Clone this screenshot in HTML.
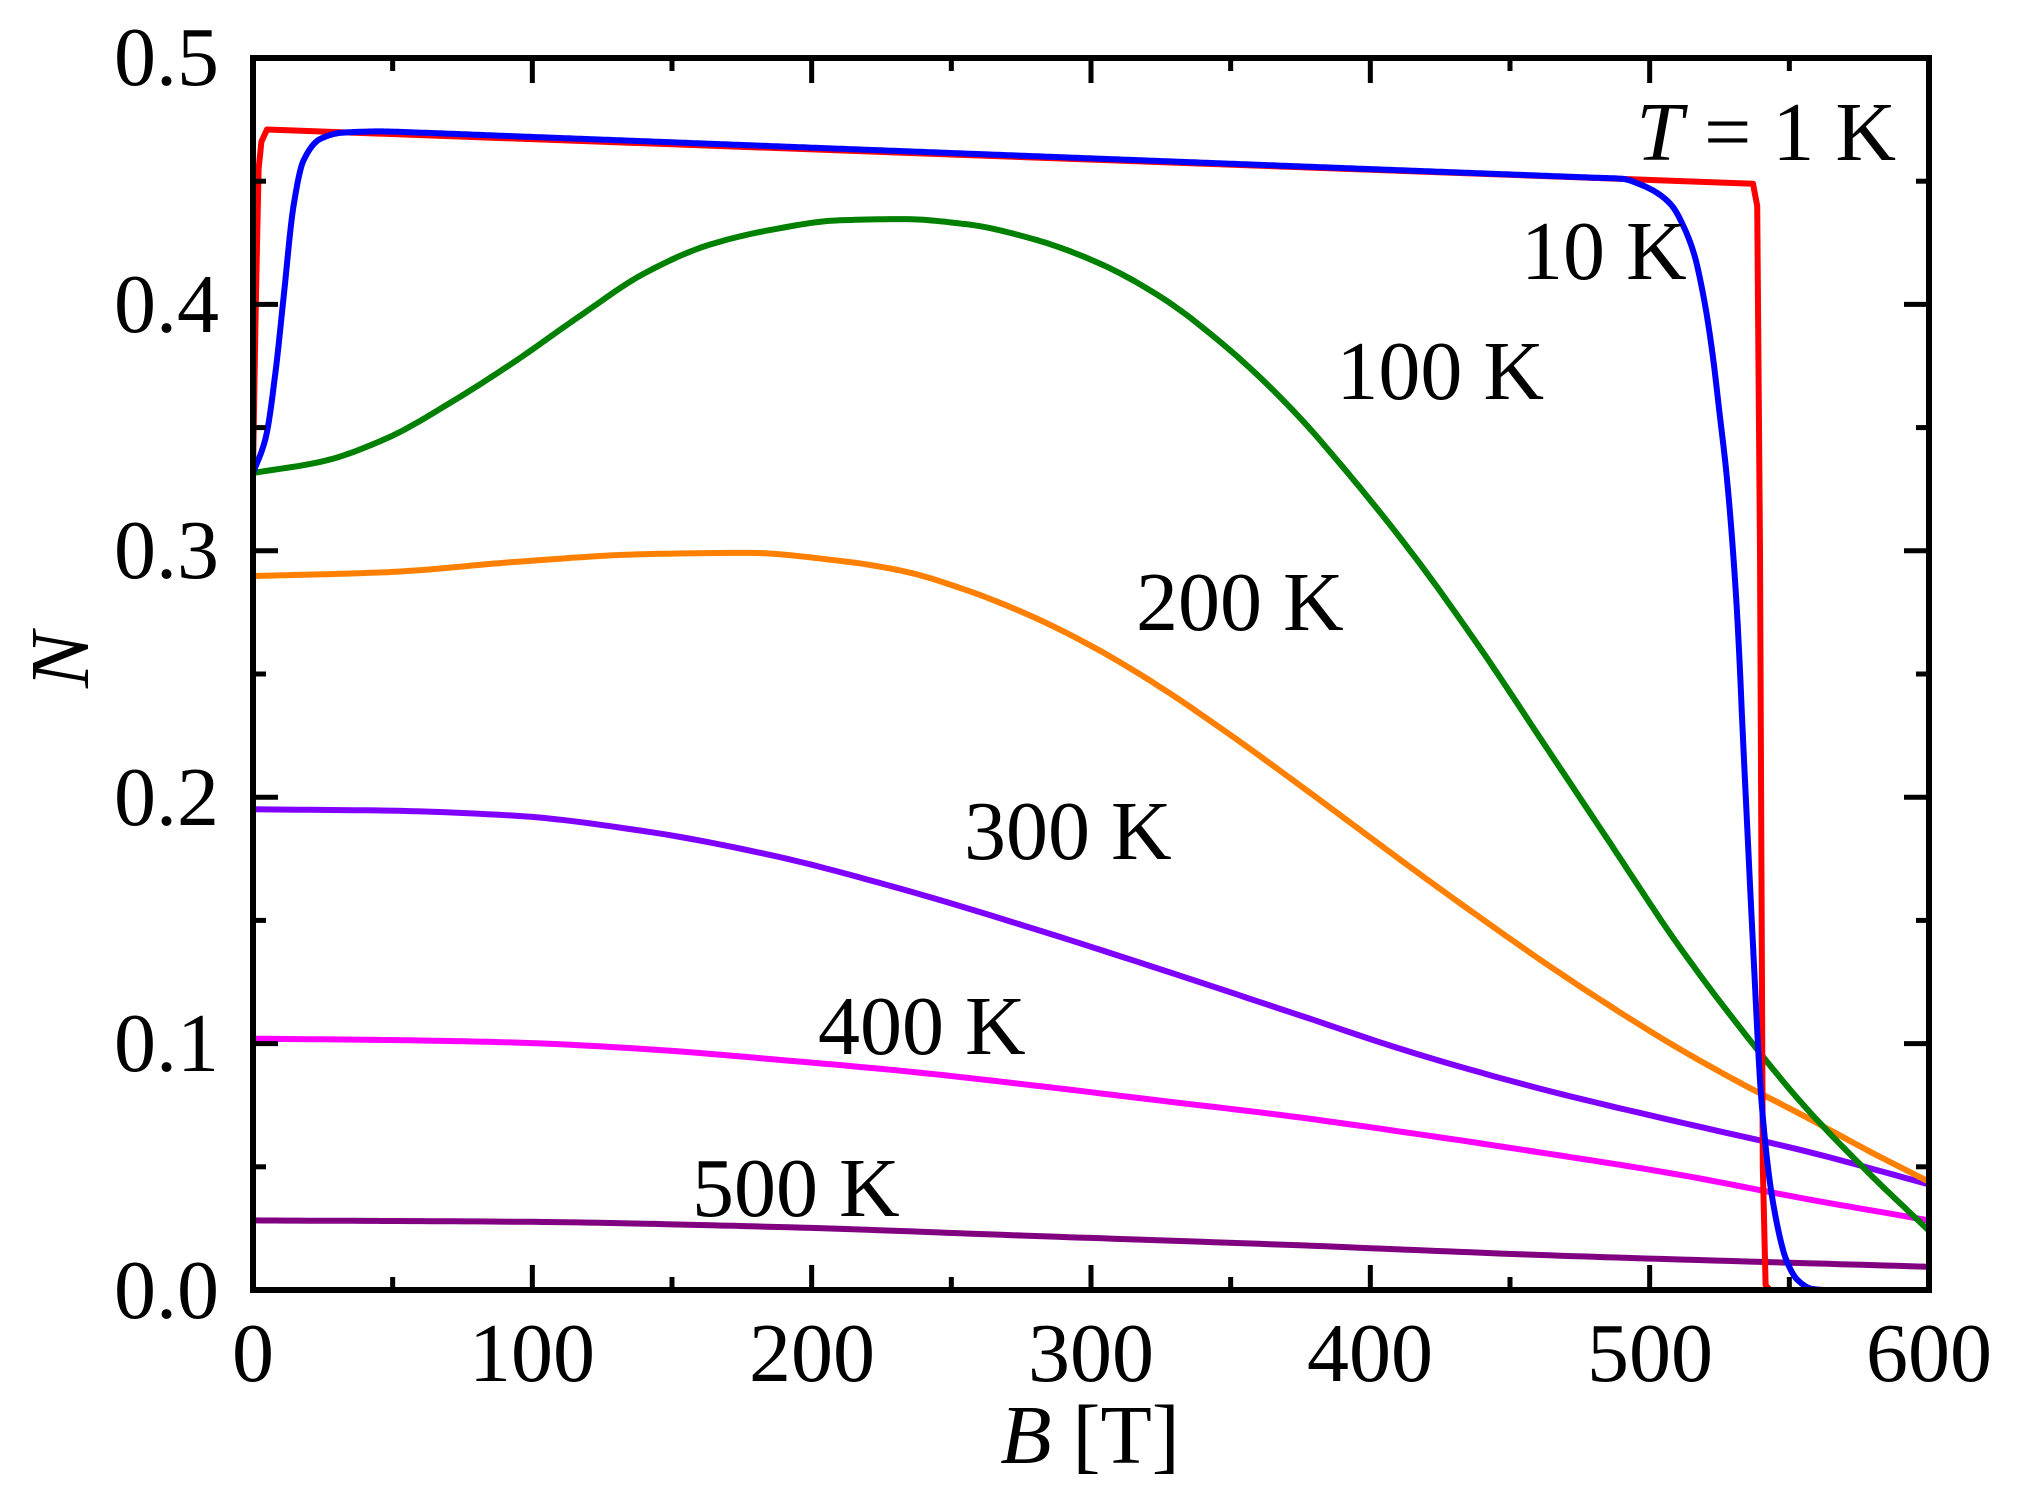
<!DOCTYPE html>
<html><head><meta charset="utf-8">
<style>
html,body{margin:0;padding:0;background:#fff;}
svg{display:block;}
text{font-family:"Liberation Serif","Times New Roman","Nimbus Roman","FreeSerif",serif;font-size:84px;fill:#000;}
</style></head>
<body>
<svg id="s" width="2018" height="1510" viewBox="0 0 2018 1510" xmlns="http://www.w3.org/2000/svg">
<g id="curves" fill="none" stroke-width="6" stroke-linejoin="round" stroke-linecap="butt"></g>
<g id="ticks" stroke="#000" stroke-width="5"></g>
<rect x="253" y="58" width="1676" height="1232" fill="none" stroke="#000" stroke-width="6"/>
<g text-anchor="end">
<text x="219" y="1318">0.0</text>
<text x="219" y="1071">0.1</text>
<text x="219" y="825">0.2</text>
<text x="219" y="578">0.3</text>
<text x="219" y="332">0.4</text>
<text x="219" y="85">0.5</text>
</g>
<g text-anchor="middle">
<text x="253" y="1381">0</text>
<text x="532" y="1381">100</text>
<text x="812" y="1381">200</text>
<text x="1091" y="1381">300</text>
<text x="1370" y="1381">400</text>
<text x="1650" y="1381">500</text>
<text x="1929" y="1381">600</text>
<text x="1090" y="1463"><tspan font-style="italic">B</tspan> [T]</text>
</g>
<text transform="translate(88,660) rotate(-90)" text-anchor="middle" font-style="italic">N</text>
<text x="1896" y="160" text-anchor="end"><tspan font-style="italic">T</tspan> = 1 K</text>
<text x="1521" y="279">10 K</text>
<text x="1544" y="399" text-anchor="end">100 K</text>
<text x="1136" y="630">200 K</text>
<text x="964" y="859">300 K</text>
<text x="818" y="1054">400 K</text>
<text x="692" y="1216">500 K</text>
</svg>
<script>
var X=function(b){return 253+b*(1676/600);};
var Y=function(v){return 1290-v*2464;};
var tk=document.getElementById('ticks');
var h='';
for(var b=0;b<=600;b+=50){var L=(b%100==0)?25:13;var x=X(b);
 h+='<line x1="'+x+'" y1="1290" x2="'+x+'" y2="'+(1290-L)+'"/>';
 h+='<line x1="'+x+'" y1="58" x2="'+x+'" y2="'+(58+L)+'"/>';}
for(var i=0;i<=10;i++){var v=i*0.05;var L=(i%2==0)?25:13;var y=Y(v);
 h+='<line x1="253" y1="'+y+'" x2="'+(253+L)+'" y2="'+y+'"/>';
 h+='<line x1="1929" y1="'+y+'" x2="'+(1929-L)+'" y2="'+y+'"/>';}
tk.innerHTML=h;
function mono(pts){
 var n=pts.length,dx=[],dy=[],m=[],t=[];
 for(var i=0;i<n-1;i++){dx[i]=pts[i+1][0]-pts[i][0];dy[i]=pts[i+1][1]-pts[i][1];m[i]=dy[i]/dx[i];}
 t[0]=m[0];t[n-1]=m[n-2];
 for(var i=1;i<n-1;i++){ if(m[i-1]*m[i]<=0)t[i]=0; else {var w1=2*dx[i]+dx[i-1],w2=dx[i]+2*dx[i-1];t[i]=(w1+w2)/(w1/m[i-1]+w2/m[i]);}}
 return function(b){
  for(var i=0;i<n-1;i++){if(b<=pts[i+1][0]){var hh=dx[i],s=(b-pts[i][0])/hh,s2=s*s,s3=s2*s;
   return (2*s3-3*s2+1)*pts[i][1]+(s3-2*s2+s)*hh*t[i]+(-2*s3+3*s2)*pts[i+1][1]+(s3-s2)*hh*t[i+1];}}
  return pts[n-1][1];};}
function curve(pts,col,step){
 var f=mono(pts);var d='';var s=step||1;
 for(var b=pts[0][0];b<=600.001;b+=s){var v=Math.max(0,f(b));d+=(d?'L':'M')+X(b).toFixed(1)+','+Y(v).toFixed(1);}
 return '<path d="'+d+'" stroke="'+col+'"/>';}
function poly(pts,col){var d='';pts.forEach(function(p){d+=(d?'L':'M')+X(p[0]).toFixed(1)+','+Y(p[1]).toFixed(1);});return '<path d="'+d+'" stroke="'+col+'"/>';}
function fromDisp(arr){return arr.map(function(p){return [(p[0]-196)*600/1301,(1001-p[1])/1912];});}
var c='';
c+=curve(fromDisp([[196,947],[400,948],[600,952],[800,959],[1000,966],[1200,974],[1497,983]]),'#800080',4);
c+=curve(fromDisp([[196,806],[300,807],[400,809],[500,814],[600,822],[700,831],[800,842],[900,854],[1000,866],[1100,880],[1200,895],[1300,911],[1400,930],[1497,947]]),'#ff00ff',4);
c+=curve(fromDisp([[196,628],[300,629],[400,633],[500,645],[600,664],[700,690],[800,720],[900,752],[1000,785],[1100,818],[1200,846],[1300,870],[1400,893],[1497,919]]),'#8000ff',4);
c+=curve(fromDisp([[196,447],[300,444],[400,436],[500,430],[580,429],[650,435],[700,443],[750,458],[800,478],[850,503],[900,533],[950,567],[1000,603],[1050,640],[1100,677],[1150,713],[1200,748],[1250,781],[1300,812],[1350,840],[1400,866],[1450,893],[1497,917]]),'#ff8000',2);
c+=curve(fromDisp([[196,367],[250,358],[300,340],[350,312],[400,280],[450,245],[500,212],[550,190],[600,178],[650,171],[700,170],[750,174],[800,185],[850,203],[900,230],[950,268],[1000,315],[1050,372],[1100,435],[1150,505],[1200,580],[1250,655],[1300,730],[1350,797],[1400,858],[1450,910],[1497,955]]),'#008000',2);
c+=poly([[0,0.333],[1,0.40],[2,0.455],[3,0.466],[5,0.471],[537,0.449],[538.5,0.44],[539.5,0.3],[540.5,0.05],[541.5,0.002],[543,0],[600,0]],'#ff0000');
var bl=[[0,0.3316],[4.5,0.3457],[8,0.3719],[11,0.4033],[14.5,0.4399],[18,0.4582],[24,0.4671],[32,0.4697],[45,0.4702]];
for(var b=60;b<=480;b+=30){bl.push([b,0.4697-(b-60)*(0.0187/430)]);}
bl.push([490,0.451],[497,0.4485],[503,0.445],[508,0.44],[512,0.432],[516,0.42],[519.5,0.402],[522.5,0.38],[525,0.356],[527.6,0.33],[531,0.28],[534,0.21],[537,0.14],[540,0.077],[544,0.0365],[549,0.012],[553,0.004],[558,0.0005],[563,0],[600,0]);
c+=curve(bl,'#0000ff',0.5);
document.getElementById('curves').innerHTML=c;
</script>
</body></html>
